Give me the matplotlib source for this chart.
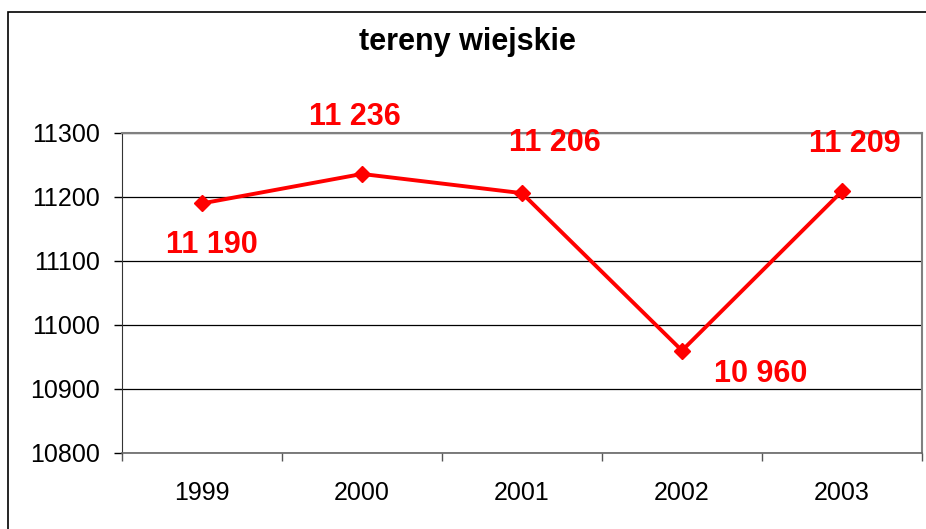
import matplotlib.pyplot as plt
from matplotlib.patches import Rectangle

years = ['1999', '2000', '2001', '2002', '2003']
values = [11190, 11236, 11206, 10960, 11209]
labels = ['11 190', '11 236', '11 206', '10 960', '11 209']
# label offsets in points from each marker
offsets = [(7, -30), (-5, 41), (24, 36), (57, -17), (9, 34)]

plt.rcParams['font.family'] = ['Liberation Sans', 'DejaVu Sans']

fig = plt.figure(figsize=(9.26, 5.29), dpi=100)
ax = fig.add_axes([122/926, 76/529, 800/926, 320/529])

x = list(range(len(years)))
ax.plot(x, values, color='#ff0000', lw=2.8, marker='D', markersize=8.5, zorder=3)

for xi, v, lab, off in zip(x, values, labels, offsets):
    ax.annotate(lab, (xi, v), xytext=off, textcoords='offset points',
                ha='center', va='center', color='#ff0000',
                fontsize=22, fontweight='bold')

ax.set_xlim(-0.5, 4.5)
ax.set_ylim(10800, 11300)
ax.set_yticks(range(10800, 11301, 100))
ax.yaxis.grid(True, color='black', lw=0.9)
ax.set_axisbelow(True)

ax.set_xticks(x)
ax.set_xticklabels(years)
ax.set_xticks([i - 0.5 for i in range(6)], minor=True)
ax.tick_params(axis='x', which='major', length=0, pad=20, labelsize=18)
ax.tick_params(axis='x', which='minor', length=6, width=1, color='#555555')
ax.tick_params(axis='y', length=6, width=1, pad=10, labelsize=18)

for s in ['top', 'right']:
    ax.spines[s].set_color('#808080')
    ax.spines[s].set_linewidth(1.5)
ax.spines['left'].set_color('#333333')
ax.spines['bottom'].set_color('#666666')
ax.spines['bottom'].set_linewidth(1.2)

fig.text(467/926, 1 - 42/529, 'tereny wiejskie', ha='center', va='center',
         fontsize=22, fontweight='bold')

fig.patches.append(Rectangle((8/926, -0.1), 1.1, 1.1 - 13/529 + 0.001,
                             transform=fig.transFigure, fill=False,
                             edgecolor='black', lw=1.2))

fig.savefig('out.png', dpi=100)
